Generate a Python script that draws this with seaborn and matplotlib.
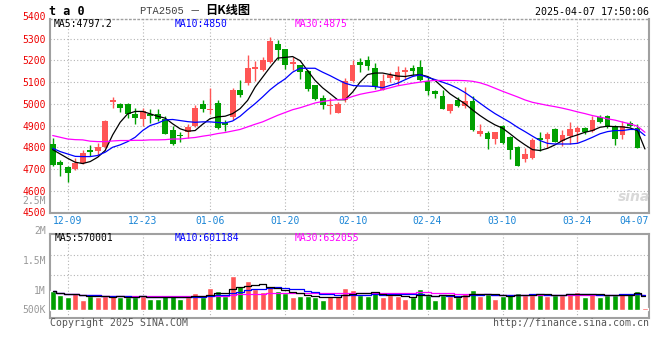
import numpy as np
import pandas as pd
import matplotlib
matplotlib.use("Agg")
import matplotlib.pyplot as plt
import matplotlib.transforms as mtrans
import seaborn as sns

# ---------------- data ----------------
date_labels = ["12-09", "12-23", "01-06", "01-20", "02-10", "02-24", "03-10", "03-24", "04-07"]
date_index = [2, 12, 21, 31, 40, 50, 60, 70, 79]

opens = [4815, 4731, 4708, 4698, 4728, 4789, 4785, 4803, 5010, 5000,
         5000, 4954, 4931, 4954, 4954, 4928, 4880, 4857, 4872, 4897,
         5001, 4970, 5004, 4912, 4940, 5062, 5095, 5160, 5156, 5192,
         5276, 5253, 5184, 5179, 5153, 5085, 5028, 4990, 4960, 5016,
         5105, 5194, 5200, 5166, 5066, 5120, 5108, 5146, 5166, 5169,
         5105, 5058, 5034, 4969, 5018, 4988, 5015, 4862, 4865, 4840,
         4900, 4849, 4800, 4746, 4751, 4843, 4838, 4885, 4831, 4854,
         4872, 4889, 4877, 4938, 4942, 4900, 4857, 4911, 4888, 4450]
highs = [4843, 4742, 4712, 4749, 4789, 4811, 4820, 4925, 5031, 5006,
         5004, 4980, 4980, 4977, 4977, 4943, 4900, 4869, 4906, 4995,
         5016, 5074, 5016, 4927, 5074, 5108, 5225, 5196, 5218, 5310,
         5292, 5255, 5214, 5180, 5155, 5086, 5039, 5027, 5008, 5120,
         5200, 5209, 5220, 5188, 5138, 5146, 5174, 5169, 5181, 5203,
         5126, 5065, 5065, 4998, 5031, 5077, 5034, 4908, 4877, 4872,
         4902, 4852, 4808, 4795, 4842, 4872, 4872, 4888, 4880, 4918,
         4897, 4895, 4943, 4949, 4949, 4903, 4920, 4920, 4908, 4490]
lows = [4712, 4666, 4642, 4695, 4725, 4758, 4765, 4795, 4982, 4962,
        4935, 4908, 4900, 4912, 4923, 4860, 4811, 4823, 4843, 4892,
        4963, 4952, 4886, 4874, 4927, 5031, 5085, 5105, 5153, 5188,
        5202, 5161, 5156, 5115, 5059, 5016, 4978, 4952, 4958, 5008,
        5100, 5148, 5158, 5069, 5064, 5100, 5089, 5115, 5135, 5105,
        5043, 5026, 4974, 4958, 4985, 4981, 4874, 4851, 4792, 4815,
        4815, 4746, 4712, 4734, 4746, 4785, 4795, 4823, 4808, 4815,
        4820, 4862, 4872, 4911, 4889, 4811, 4838, 4892, 4797, 4430]
closes = [4718, 4716, 4680, 4726, 4772, 4780, 4800, 4920, 5018, 4982,
          4951, 4935, 4969, 4946, 4931, 4862, 4815, 4851, 4894, 4980,
          4978, 4978, 4891, 4901, 5066, 5043, 5166, 5169, 5202, 5288,
          5248, 5181, 5192, 5146, 5069, 5024, 4993, 4996, 5001, 5105,
          5180, 5178, 5174, 5077, 5105, 5131, 5146, 5154, 5151, 5108,
          5058, 5046, 4977, 4997, 4989, 5015, 4880, 4877, 4838, 4868,
          4820, 4789, 4715, 4769, 4835, 4835, 4862, 4826, 4857, 4882,
          4888, 4869, 4926, 4915, 4892, 4838, 4897, 4897, 4797, 4470]
ma5 = [4789, 4769, 4749, 4731, 4725, 4734, 4754, 4785, 4857, 4915,
       4954, 4965, 4965, 4954, 4943, 4934, 4908, 4885, 4874, 4877,
       4906, 4932, 4940, 4943, 4955, 4978, 5016, 5077, 5123, 5169,
       5211, 5214, 5218, 5199, 5153, 5108, 5074, 5047, 5019, 5019,
       5054, 5100, 5135, 5142, 5142, 5135, 5128, 5126, 5132, 5135,
       5126, 5108, 5077, 5046, 5023, 5000, 4972, 4946, 4923, 4903,
       4888, 4862, 4835, 4811, 4789, 4785, 4795, 4811, 4831, 4846,
       4857, 4869, 4877, 4892, 4897, 4895, 4894, 4889, 4877, 4792]
ma10 = [4795, 4780, 4769, 4758, 4757, 4757, 4762, 4777, 4800, 4811,
        4826, 4846, 4877, 4900, 4911, 4926, 4928, 4923, 4918, 4915,
        4917, 4917, 4914, 4912, 4921, 4943, 4973, 5001, 5032, 5065,
        5092, 5115, 5146, 5164, 5164, 5164, 5146, 5130, 5112, 5095,
        5085, 5082, 5082, 5080, 5074, 5085, 5095, 5111, 5126, 5134,
        5122, 5112, 5100, 5088, 5072, 5052, 5028, 5003, 4978, 4955,
        4935, 4915, 4892, 4872, 4851, 4831, 4818, 4815, 4815, 4815,
        4818, 4831, 4846, 4862, 4872, 4877, 4877, 4882, 4882, 4854]
ma30 = [4854, 4846, 4838, 4835, 4834, 4828, 4826, 4826, 4829, 4831,
        4831, 4832, 4832, 4834, 4834, 4835, 4838, 4838, 4842, 4845,
        4851, 4856, 4863, 4868, 4875, 4882, 4894, 4906, 4917, 4932,
        4947, 4960, 4973, 4982, 4993, 5004, 5011, 5016, 5019, 5022,
        5034, 5044, 5051, 5057, 5065, 5074, 5083, 5089, 5095, 5100,
        5105, 5108, 5108, 5108, 5108, 5107, 5104, 5097, 5086, 5072,
        5058, 5045, 5032, 5018, 5007, 5000, 4993, 4987, 4980, 4972,
        4963, 4955, 4946, 4939, 4931, 4925, 4916, 4908, 4897, 4869]
volume_k = [840, 640, 565, 752, 448, 622, 565, 596, 622, 565,
            565, 565, 622, 492, 492, 652, 622, 492, 552, 752,
            565, 970, 840, 622, 1492, 1057, 1274, 927, 796, 1013,
            840, 752, 552, 596, 622, 565, 448, 622, 622, 970,
            883, 665, 596, 796, 552, 652, 622, 492, 552, 927,
            665, 448, 652, 596, 565, 752, 883, 622, 709, 492,
            596, 665, 752, 665, 665, 709, 622, 665, 665, 752,
            796, 552, 752, 552, 665, 665, 709, 709, 840, 87]
price_ticks = [4500, 4600, 4700, 4800, 4900, 5000, 5100, 5200, 5300]

# ---------------- style ----------------
sns.set_style("white")
plt.rcParams["font.family"] = ["DejaVu Sans Mono", "Noto Sans CJK SC"]

RED = "#ff5555"
GREEN = "#00a000"
GRID = "#b4b4b4"
SPINE = "#a0a0a0"
BLUE_TXT = "#1a85d6"

W, H = 660, 360
def fx(x):
    return x / W
def fy(y):
    return 1 - y / H

fig = plt.figure(figsize=(6.6, 3.6), dpi=100)
ax = fig.add_axes([fx(50), fy(213), fx(649) - fx(50), fy(19) - fy(213)])
axv = fig.add_axes([fx(50), fy(318), fx(649) - fx(50), fy(234) - fy(318)])

idx = np.arange(len(closes))
o = np.array(opens, float)
c = np.array(closes, float)
up = c >= o
cols = np.where(up, RED, GREEN)

# candles
ax.vlines(idx, lows, highs, colors=cols, lw=1.0, zorder=3)
body_bottom = np.minimum(o, c)
body_h = np.maximum(np.abs(c - o), 4)
ax.bar(idx, body_h, bottom=body_bottom, width=0.78, color=cols, lw=0, zorder=4)

# moving averages
sns.lineplot(x=idx, y=ma5, ax=ax, color="black", lw=0.9, zorder=5)
sns.lineplot(x=idx, y=ma10, ax=ax, color="#0000ff", lw=0.9, zorder=5)
sns.lineplot(x=idx, y=ma30, ax=ax, color="#ff00ff", lw=0.9, zorder=5)

xlo, xhi = -0.36, 79.54
ax.set_xlim(xlo, xhi)
ax.set_ylim(4497, 5391)
ax.set_yticks(price_ticks)
ax.set_yticklabels([str(t) for t in price_ticks])
ax.set_xticks(date_index[:-1])
ax.set_xticklabels(date_labels[:-1])
ax.set_xlabel("")
ax.set_ylabel("")
ax.tick_params(axis="y", length=0, pad=3, labelcolor="#ee0000", labelsize=7)
ax.tick_params(axis="x", length=0, pad=2.5, labelcolor=BLUE_TXT, labelsize=7)
ax.grid(True, ls=(0, (1, 2)), color=GRID, lw=0.8)
ax.set_axisbelow(True)
for side in ["left", "right", "bottom", "top"]:
    ax.spines[side].set_color(SPINE)
    ax.spines[side].set_linewidth(1.5)
ax.spines["top"].set_linestyle((0, (1, 2)))
ax.spines["top"].set_linewidth(1.0)

blend = mtrans.blended_transform_factory(ax.transAxes, ax.transData)
ax.text(-0.0067, 5400, "5400", transform=blend, ha="right", va="center",
        color="#ee0000", fontsize=7, clip_on=False)

# legend texts main
ax.text(fx(55) - fx(50), 0, "", transform=ax.transAxes)
fig.text(fx(54), fy(24), "MA5:4797.2", color="black", fontsize=7, va="center")
fig.text(fx(175), fy(24), "MA10:4850", color="#0000ff", fontsize=7, va="center")
fig.text(fx(295), fy(24), "MA30:4875", color="#ff00ff", fontsize=7, va="center")

# ---------------- volume ----------------
vdf = pd.DataFrame({"i": idx, "v": volume_k, "dir": np.where(up, "up", "down")})
sns.barplot(data=vdf, x="i", y="v", hue="dir", palette={"up": RED, "down": GREEN},
            native_scale=True, dodge=False, width=0.8, legend=False,
            errorbar=None, saturation=1, ax=axv, zorder=3)
vser = pd.Series(volume_k, dtype=float)
vma5 = vser.rolling(5, min_periods=1).mean()
vma10 = vser.rolling(10, min_periods=1).mean()
vma30 = vser.rolling(30, min_periods=1).mean()
sns.lineplot(x=idx, y=vma30.values, ax=axv, color="#ff00ff", lw=0.9, zorder=5, drawstyle="steps-mid")
sns.lineplot(x=idx, y=vma10.values, ax=axv, color="#0000ff", lw=0.9, zorder=5, drawstyle="steps-mid")
sns.lineplot(x=idx, y=vma5.values, ax=axv, color="black", lw=0.9, zorder=5, drawstyle="steps-mid")

axv.set_xlim(xlo, xhi)
axv.set_ylim(-348, 3304)
axv.set_xticks(date_index[:-1])
axv.set_xticklabels([])
axv.set_yticks([1522, 2391])
axv.set_yticklabels([])
axv.set_xlabel("")
axv.set_ylabel("")
axv.tick_params(length=0)
axv.grid(True, ls=(0, (1, 2)), color=GRID, lw=0.8)
axv.set_axisbelow(True)
for side in ["left", "right", "bottom", "top"]:
    axv.spines[side].set_color(SPINE)
    axv.spines[side].set_linewidth(1.5)

# volume labels
for lab, yy in [("2M", 230.7), ("1.5M", 260.7), ("1M", 290.7), ("500K", 310), ("2.5M", 200.5)]:
    fig.text(fx(46), fy(yy), lab, color="#999999", fontsize=7, ha="right", va="center")
fig.text(fx(55), fy(238.3), "MA5:570001", color="black", fontsize=7, va="center")
fig.text(fx(175), fy(238.3), "MA10:601184", color="#0000ff", fontsize=7, va="center")
fig.text(fx(295), fy(238.3), "MA30:632055", color="#ff00ff", fontsize=7, va="center")

# last date label
fig.text(fx(649), fy(221), date_labels[-1], color=BLUE_TXT, fontsize=7, ha="right", va="center")

# header
fig.text(fx(49), fy(11.5), "t a 0", color="black", fontsize=8.5, weight="bold", va="center")
fig.text(fx(140), fy(10.5), "PTA2505 －", color="#404040", fontsize=7.5, va="center",
         family=["Liberation Mono", "Noto Sans CJK SC"])
fig.text(fx(205), fy(10.3), "日K线图", color="black", fontsize=8.8, weight="bold", va="center",
         family=["Noto Sans CJK SC"])
fig.text(fx(649), fy(12.3), "2025-04-07 17:50:06", color="black", fontsize=7.2, ha="right", va="center")

# footer
fig.text(fx(50), fy(323.5), "Copyright 2025 SINA.COM", color="#555555", fontsize=7.1, va="center")
fig.text(fx(649), fy(323.5), "http://finance.sina.com.cn", color="#555555", fontsize=7.1, ha="right", va="center")

# watermark
fig.text(fx(618), fy(197), "sina", color="#d8d8d8", fontsize=10, style="italic", weight="bold",
         va="center", family=["DejaVu Sans"])

fig.savefig("out.png", dpi=100)
